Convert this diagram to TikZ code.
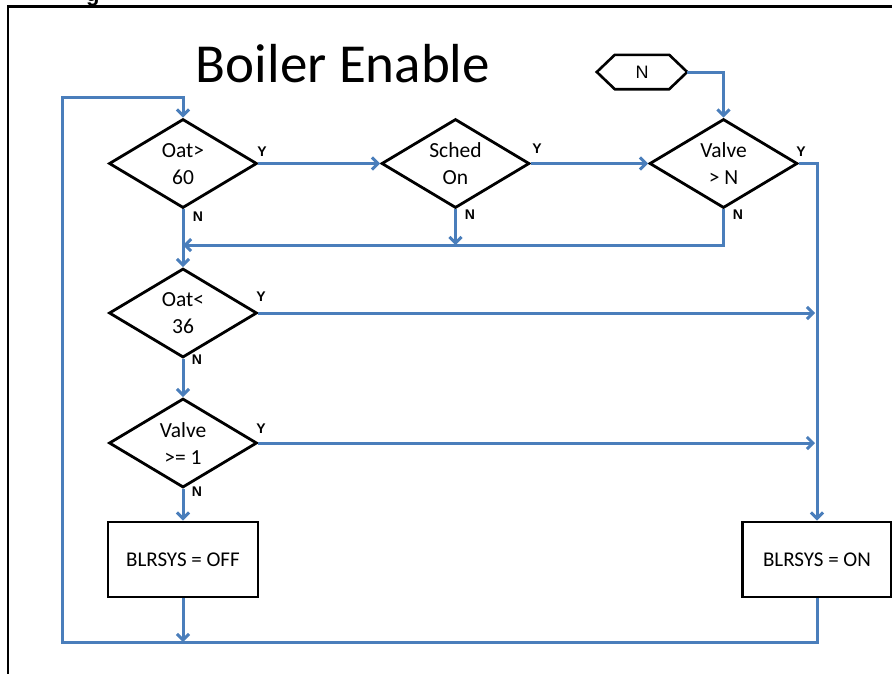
\documentclass[tikz,border=0pt]{standalone}
\usepackage{fontspec}
\setmainfont{Carlito}
\newfontfamily\arialfont{Liberation Sans}
\usetikzlibrary{shapes.geometric,arrows.meta}
\definecolor{flowblue}{RGB}{74,126,187}
\tikzset{
  flow/.style={draw=flowblue, line width=3pt, line join=miter},
  arr/.style={flow, -{Straight Barb[length=6pt,width=12pt]}},
  decision/.style={shape=diamond, draw=black, line width=2.8pt, fill=white,
    minimum width=148pt, minimum height=89pt, inner sep=0pt},
  dtext/.style={align=center, inner sep=0pt, font=\fontsize{21.5}{27}\selectfont},
  action/.style={draw=black, line width=2.8pt, fill=white,
    minimum width=150pt, minimum height=75pt, inner sep=0pt,
    font=\fontsize{21}{24}\selectfont},
  yn/.style={font=\arialfont\bfseries\fontsize{14}{16}\selectfont, inner sep=0pt},
}
\begin{document}
\begin{tikzpicture}[x=1pt, y=-1pt]
\useasboundingbox (0,0) rectangle (892,673);

% page frame and the tail of the heading above it
\node[anchor=base west, inner sep=0pt, font=\arialfont\bfseries\fontsize{22}{24}\selectfont] (headg) at (86,1) {g};
\draw[line width=2.6pt] (8,680) -- (8,6.5) -- (900,6.5);

% title
\node[anchor=base, inner sep=0pt, font=\fontsize{55}{60}\selectfont] (title) at (343,82) {Boiler Enable};

% entry connector
\node[inner sep=0pt, minimum width=90pt, minimum height=34pt, font=\arialfont\fontsize{18}{20}\selectfont] (hex) at (642,72) {N};
\draw[line width=2.6pt] (hex.west) -- ([xshift=18pt]hex.north west) -- ([xshift=-18pt]hex.north east)
  -- (hex.east) -- ([xshift=-18pt]hex.south east) -- ([xshift=18pt]hex.south west) -- cycle;

% decisions
\node[decision] (d1) at (183,163.5) {};
\node[dtext] (d1t) at (183,164) {Oat>\\60};
\node[decision] (d2) at (455.5,163.5) {};
\node[dtext] (d2t) at (455.5,164) {Sched\\On};
\node[decision] (d3) at (723.5,163.5) {};
\node[dtext] (d3t) at (723.5,164) {Valve\\> N};
\node[decision] (d4) at (183,313) {};
\node[dtext] (d4t) at (183,313.5) {Oat<\\36};
\node[decision] (d5) at (183,443) {};
\node[dtext] (d5t) at (183,443.5) {Valve\\>= 1};

% actions
\node[action] (off) at (183,559.5) {BLRSYS = OFF};
\node[action, minimum width=149pt] (on) at (817,559.5) {BLRSYS = ON};

% helper points of the return loop and the merge line
\coordinate (lb) at (62,642);
\coordinate (lt) at (62,97);
\coordinate (mg) at (183,245);

% connectors
\draw[arr] (hex.east) -| (d3.north);
\draw[arr] (on.south) |- (lb) -- (lt) -| (d1.north);
\draw[arr] (off.south) -- (off.south |- lb);
\draw[arr] (d1.east) -- (d2.west);
\draw[arr] (d2.east) -- (d3.west);
\draw[arr] (d3.east) -| (on.north);
\draw[arr] (d2.south) -- (d2.south |- mg);
\draw[arr] (d3.south) |- (mg);
\draw[arr] (d1.south) -- (d4.north);
\draw[arr] (d4.east) -- ([xshift=-2pt]d4.east -| on.north);
\draw[arr] (d4.south) -- (d5.north);
\draw[arr] (d5.east) -- ([xshift=-2pt]d5.east -| on.north);
\draw[arr] (d5.south) -- (off.north);

% branch labels
\node[yn] (y1) at (262,152) {Y};
\node[yn] (n1) at (198,217) {N};
\node[yn] (y2) at (537,149) {Y};
\node[yn] (n2) at (470,215) {N};
\node[yn] (y3) at (801,152) {Y};
\node[yn] (n3) at (738,215) {N};
\node[yn] (y4) at (261,297) {Y};
\node[yn] (n4) at (197,360) {N};
\node[yn] (y5) at (261,429) {Y};
\node[yn] (n5) at (197,492) {N};
\end{tikzpicture}
\end{document}
